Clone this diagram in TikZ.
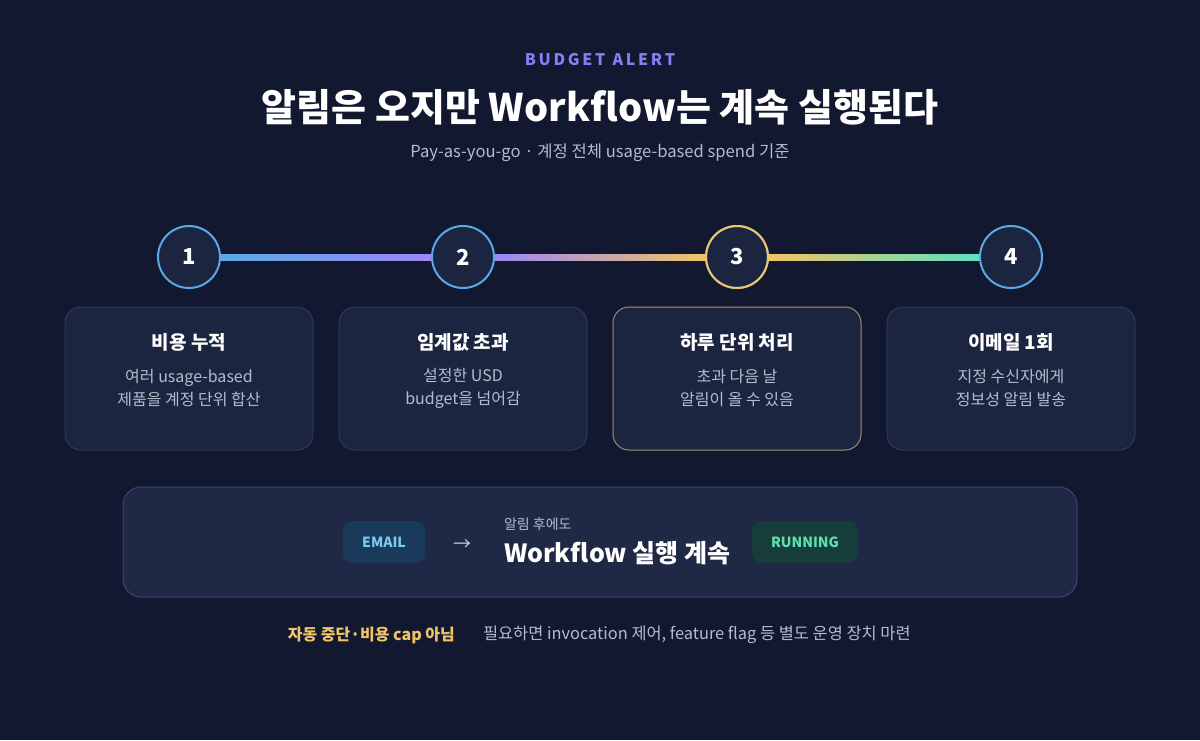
\documentclass[tikz,border=0pt]{standalone}
\usepackage{fontspec}
\setmainfont{Noto Sans CJK KR}
\usetikzlibrary{positioning}
\definecolor{bgc}{HTML}{111830}
\definecolor{cardc}{HTML}{1C2540}
\definecolor{cardline}{HTML}{2E3A58}
\definecolor{panelc}{HTML}{1F2946}
\definecolor{panelline}{HTML}{3A4668}
\definecolor{stepblue}{HTML}{5AA9E6}
\definecolor{steppurple}{HTML}{9B87F5}
\definecolor{stepyellow}{HTML}{F0C467}
\definecolor{stepteal}{HTML}{5EE0C0}
\definecolor{softgray}{HTML}{B4BCCC}
\definecolor{kicker}{HTML}{8B7CF6}
\definecolor{mailfill}{HTML}{1A3A5A}
\definecolor{mailtext}{HTML}{7CC8F0}
\definecolor{runfill}{HTML}{173D3A}
\definecolor{runtext}{HTML}{5EE0B0}
\begin{document}
\begin{tikzpicture}[x=0.5pt,y=-0.5pt,
  stepdot/.style={circle,draw=stepblue,line width=1pt,fill=cardc,minimum size=31pt,inner sep=0pt,
    text=white,font=\fontsize{11}{11}\selectfont\bfseries},
  card/.style={rounded corners=8pt,draw=cardline,line width=0.5pt,fill=cardc},
  cardtitle/.style={text=white,font=\fontsize{9.5}{11}\selectfont\bfseries},
  cardtext/.style={text=softgray,font=\fontsize{8}{11.5}\selectfont,align=center},
  badge/.style={rounded corners=5pt,minimum width=41pt,minimum height=21pt,
    font=\fontsize{7}{7}\selectfont\bfseries}]
  % background
  \fill[bgc] (0,0) rectangle (1200,740);
  \useasboundingbox (0,0) rectangle (1200,740);
  % header
  \node[text=kicker,font=\fontsize{8}{8}\selectfont\bfseries] (kick) at (600,60) {B\,U\,D\,G\,E\,T\ \ A\,L\,E\,R\,T};
  \node[text=white,font=\fontsize{19}{19}\selectfont\bfseries] (title) at (600,107) {알림은 오지만 Workflow는 계속 실행된다};
  \node[text=softgray,font=\fontsize{8.3}{8.3}\selectfont] (sub) at (600,153) {Pay-as-you-go · 계정 전체 usage-based spend 기준};
  % steps
  \foreach \n/\x in {1/189,2/463,3/737,4/1011}
    \node[stepdot] (s\n) at (\x,257) {\n};
  \draw[stepyellow,line width=1pt] (s3) circle (15.5pt);
  \shade[left color=stepblue,right color=steppurple] ([yshift=-1.5]s1.east) rectangle ([yshift=1.5]s2.west);
  \shade[left color=steppurple,right color=stepyellow] ([yshift=-1.5]s2.east) rectangle ([yshift=1.5]s3.west);
  \shade[left color=stepyellow,right color=stepteal] ([yshift=-1.5]s3.east) rectangle ([yshift=1.5]s4.west);
  % cards
  \foreach \n/\x/\t/\a/\b in {1/189/비용 누적/여러 usage-based/제품을 계정 단위 합산,
      2/463/임계값 초과/설정한 USD/budget을 넘어감,
      3/737/하루 단위 처리/초과 다음 날/알림이 올 수 있음,
      4/1011/이메일 1회/지정 수신자에게/정보성 알림 발송} {
    \draw[card] (\x-124,307) rectangle (\x+124,450);
    \node[cardtitle] (c\n) at (\x,342) {\t};
    \node[cardtext] (d\n) at (\x,388) {\a\\\b};
  }
  \draw[rounded corners=8pt,draw=stepyellow!55!cardline,line width=0.5pt] (613,307) rectangle (861,450);
  % panel
  \draw[rounded corners=9pt,draw=panelline,fill=panelc,line width=0.5pt] (123,487) rectangle (1077,597);
  \node[badge,fill=mailfill,text=mailtext] (mail) at (384,542) {EMAIL};
  \node[text=softgray!70,font=\fontsize{9}{9}\selectfont] (arr) at (462,545) {→};
  \node[anchor=west,text=softgray,font=\fontsize{7}{7}\selectfont] (pre) at (497,524) {알림 후에도};
  \node[anchor=west,text=white,font=\fontsize{12.5}{12.5}\selectfont\bfseries] (run) at (497,553) {Workflow 실행 계속};
  \node[badge,minimum width=53pt,fill=runfill,text=runtext] (live) at (805,542) {RUNNING};
  % footer
  \node[anchor=east,text=stepyellow,font=\fontsize{8}{8}\selectfont\bfseries] (warn) at (462,635) {자동 중단·비용 cap 아님};
  \node[anchor=west,text=softgray,font=\fontsize{8.2}{8.2}\selectfont] (note) at (476,635) {필요하면 invocation 제어, feature flag 등 별도 운영 장치 마련};
\end{tikzpicture}
\end{document}
